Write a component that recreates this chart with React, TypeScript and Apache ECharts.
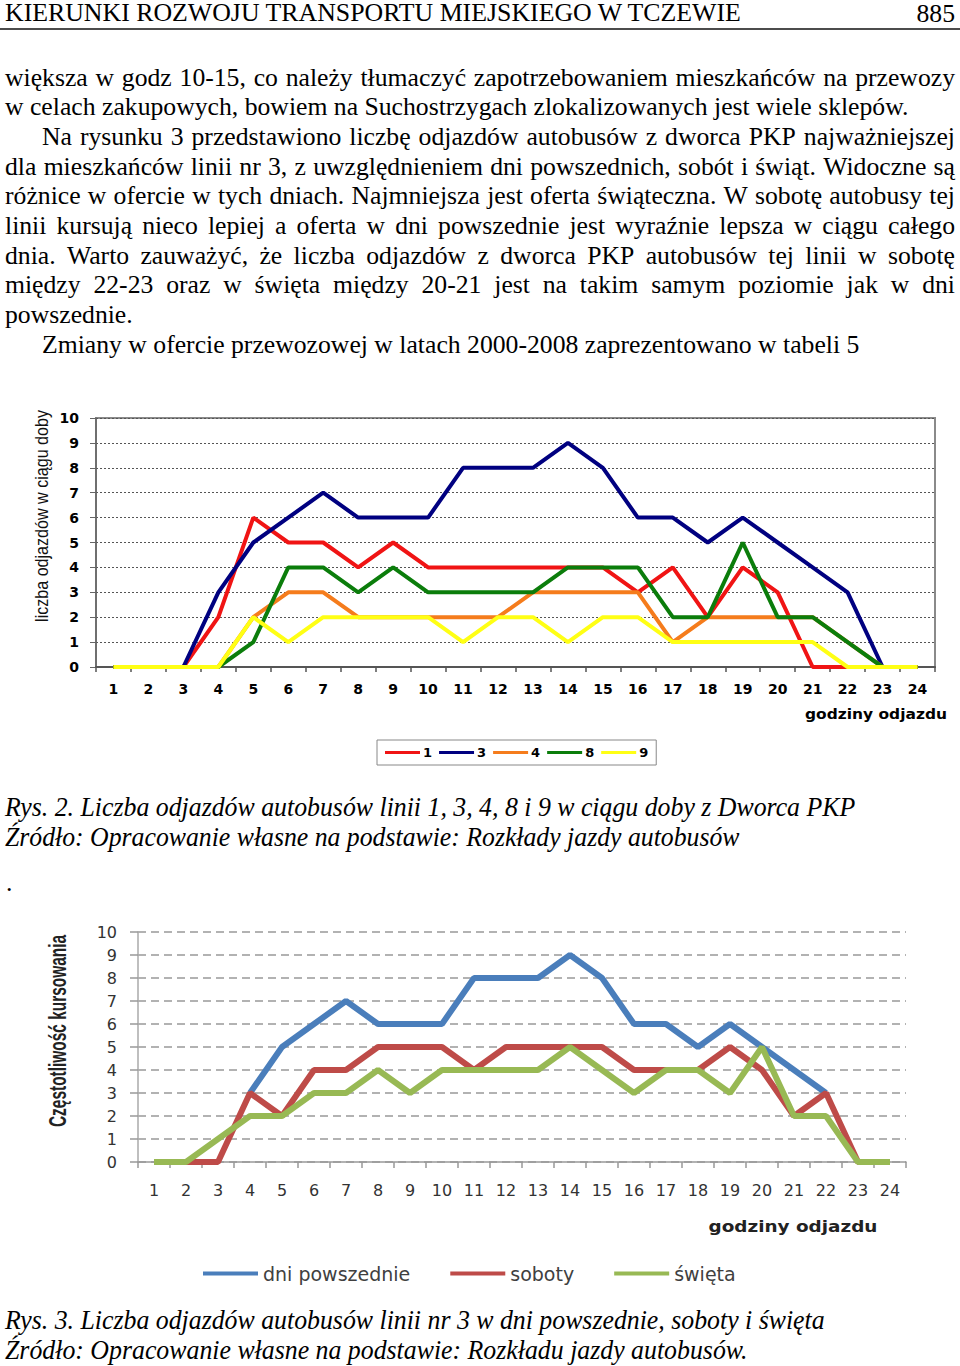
import React, { useEffect, useRef } from 'react';
import * as echarts from 'echarts';

// ---------- DATA ----------
const hours = ['1','2','3','4','5','6','7','8','9','10','11','12','13','14','15','16','17','18','19','20','21','22','23','24'];
const yTicks = [0, 10];

// Rys. 2 – lines 1, 3, 4, 8, 9
const line1 = [0,0,0,2,6,5,5,4,5,4,4,4,4,4,4,3,4,2,4,3,0,0,0,0];
const line3 = [0,0,0,3,5,6,7,6,6,6,8,8,8,9,8,6,6,5,6,5,4,3,0,0];
const line4 = [0,0,0,0,2,3,3,2,2,2,2,2,3,3,3,3,1,2,2,2,2,1,0,0];
const line8 = [0,0,0,0,1,4,4,3,4,3,3,3,3,4,4,4,2,2,5,2,2,1,0,0];
const line9 = [0,0,0,0,2,1,2,2,2,2,1,2,2,1,2,2,1,1,1,1,1,0,0,0];
const chart1Names = ['1','3','4','8','9'];

// Rys. 3 – line 3 by day type
const weekdays = [null,null,null,3,5,6,7,6,6,6,8,8,8,9,8,6,6,5,6,5,4,3,null,null];
const saturdays = [0,0,0,3,2,4,4,5,5,5,4,5,5,5,5,4,4,4,5,4,2,3,0,0];
const holidays = [0,0,1,2,2,3,3,4,3,4,4,4,4,5,4,3,4,4,3,5,2,2,0,0];
const chart2Names = ['dni powszednie','soboty','święta'];

// ---------- TEXT ----------
const headerTitle = 'KIERUNKI ROZWOJU TRANSPORTU MIEJSKIEGO W TCZEWIE';
const pageNumber = '885';
const bodyLines = [
  'większa w godz 10-15, co należy tłumaczyć zapotrzebowaniem mieszkańców na przewozy',
  'w celach zakupowych, bowiem na Suchostrzygach zlokalizowanych jest wiele sklepów.',
  'Na rysunku 3 przedstawiono liczbę odjazdów autobusów z dworca PKP najważniejszej',
  'dla mieszkańców linii nr 3, z uwzględnieniem dni powszednich, sobót i świąt. Widoczne są',
  'różnice w ofercie w tych dniach. Najmniejsza jest oferta świąteczna. W sobotę autobusy tej',
  'linii kursują nieco lepiej a oferta w dni powszednie jest wyraźnie lepsza w ciągu całego',
  'dnia. Warto zauważyć, że liczba odjazdów z dworca PKP  autobusów tej linii w sobotę',
  'między 22-23 oraz w święta między 20-21 jest na takim samym poziomie jak w dni',
  'powszednie.',
  'Zmiany w ofercie przewozowej w latach 2000-2008 zaprezentowano w tabeli 5',
];
const caption2 = 'Rys. 2. Liczba odjazdów autobusów linii 1, 3, 4, 8 i 9 w ciągu doby z Dworca PKP';
const source2 = 'Źródło: Opracowanie własne na podstawie: Rozkłady jazdy autobusów';
const caption3 = 'Rys. 3. Liczba odjazdów autobusów linii nr 3 w dni powszednie, soboty i święta';
const source3 = 'Źródło: Opracowanie własne na podstawie: Rozkładu jazdy autobusów.';
const y1Name = 'liczba odjazdów w ciągu doby';
const y2Name = 'Częstotliwość kursowania';
const xName = 'godziny odjazdu';

// ---------- HELPERS ----------
let measureCtx: CanvasRenderingContext2D | null = null;
function textWidth(t: string, font: string) {
  if (!measureCtx) measureCtx = document.createElement('canvas').getContext('2d');
  measureCtx!.font = font;
  return measureCtx!.measureText(t).width;
}
type TOpt = {
  size: number; family: string; weight?: string; italic?: boolean; color?: string;
  align?: 'left' | 'center' | 'right'; fitWidth?: number; rotation?: number;
};
function fontStr(o: TOpt) {
  return `${o.italic ? 'italic ' : ''}${o.weight || 'normal'} ${o.size}px "${o.family}"`;
}
function txt(text: string, x: number, y: number, o: TOpt): any {
  let scaleX = 1;
  if (o.fitWidth) scaleX = o.fitWidth / textWidth(text, fontStr(o));
  return {
    type: 'text', x, y, rotation: o.rotation || 0, scaleX, scaleY: 1, silent: true,
    style: {
      text, fontSize: o.size, fontFamily: o.family, fontWeight: o.weight || 'normal',
      fontStyle: o.italic ? 'italic' : 'normal', fill: o.color || '#000',
      align: o.align || 'left', verticalAlign: 'middle',
    },
  };
}
function justified(text: string, x0: number, x1: number, y: number, o: TOpt) {
  const words = text.split(/\s+/);
  const f = fontStr(o);
  const ws = words.map((w) => textWidth(w, f));
  const total = ws.reduce((a, b) => a + b, 0);
  const gap = (x1 - x0 - total) / (words.length - 1);
  let x = x0;
  const out: any[] = [];
  words.forEach((w, i) => { out.push(txt(w, x, y, o)); x += ws[i] + gap; });
  return out;
}

function buildGraphics() {
  const body: TOpt = { size: 25.7, family: 'Liberation Serif', color: '#000' };
  const g: any[] = [];
  g.push(txt(headerTitle, 5, 13, { ...body, fitWidth: 738 }));
  g.push(txt(pageNumber, 955, 13, { ...body, align: 'right' }));
  g.push({ type: 'line', silent: true, shape: { x1: 0, y1: 29, x2: 960, y2: 29 }, style: { stroke: '#111', lineWidth: 1.5 } });

  const ys = [77, 106.7, 136.3, 166, 195.7, 225.3, 255, 284.7, 314.3, 344];
  const layout: [number, number | null][] = [
    [5, 955], [5, null], [42, 955], [5, 955], [5, 955], [5, 955], [5, 955], [5, 955], [5, null], [42, null],
  ];
  bodyLines.forEach((line, i) => {
    const [x0, x1] = layout[i];
    if (x1 === null) g.push(txt(line, x0, ys[i], body));
    else g.push(...justified(line, x0, x1, ys[i], body));
  });

  const cap: TOpt = { size: 27, family: 'Liberation Serif', italic: true, color: '#000' };
  g.push(txt(caption2, 5, 807, { ...cap, fitWidth: 850 }));
  g.push(txt(source2, 5, 837, { ...cap, fitWidth: 735 }));
  g.push(txt('.', 6, 882, body));
  g.push(txt(caption3, 5, 1320, { ...cap, fitWidth: 820 }));
  g.push(txt(source3, 5, 1350, { ...cap, fitWidth: 743 }));

  // axis names
  g.push(txt(y1Name, 42, 516, { size: 18, family: 'Liberation Sans', color: '#111', align: 'center', rotation: Math.PI / 2, fitWidth: 212 }));
  g.push(txt(xName, 876, 714, { size: 14, family: 'DejaVu Sans', weight: 'bold', color: '#000', align: 'center', fitWidth: 142 }));
  g.push(txt(y2Name, 58, 1031, { size: 23, family: 'Liberation Sans', weight: 'bold', color: '#222', align: 'center', rotation: Math.PI / 2, fitWidth: 192 }));
  g.push(txt(xName, 793, 1226, { size: 16, family: 'DejaVu Sans', weight: 'bold', color: '#222', align: 'center', fitWidth: 169 }));
  return g;
}

function lineSeries(name: string, data: (number | null)[], color: string, width: number, axis: number) {
  return {
    name, type: 'line', data, xAxisIndex: axis, yAxisIndex: axis, symbol: 'none', showSymbol: false,
    connectNulls: false, lineStyle: { color, width }, itemStyle: { color }, emphasis: { disabled: true },
    z: 3,
  };
}

export default function App() {
  const ref = useRef<HTMLDivElement>(null);
  useEffect(() => {
    if (!ref.current) return;
    const chart = echarts.init(ref.current, null, { renderer: 'svg' });
    const lab1 = { fontFamily: 'DejaVu Sans', fontWeight: 'bold', fontSize: 14, color: '#000' };
    const lab2 = { fontFamily: 'DejaVu Sans', fontSize: 16, color: '#333' };
    const option: any = {
      animation: false,
      backgroundColor: '#ffffff',
      grid: [
        { left: 96, top: 418, width: 839, height: 249, show: true, borderColor: '#8a8a8a', borderWidth: 2, backgroundColor: 'transparent', outerBoundsMode: 'none' },
        { left: 138, top: 932, width: 768, height: 230, outerBoundsMode: 'none' },
      ],
      xAxis: [
        {
          gridIndex: 0, type: 'category', data: hours, boundaryGap: true,
          axisLine: { show: true, lineStyle: { color: '#555', width: 2 } },
          axisTick: { show: true, length: 5, interval: 0, lineStyle: { color: '#555', width: 1.5 } },
          axisLabel: { ...lab1, margin: 15, interval: 0 },
          splitLine: { show: false },
        },
        {
          gridIndex: 1, type: 'category', data: hours, boundaryGap: true,
          axisLine: { show: true, lineStyle: { color: '#999', width: 1.5 } },
          axisTick: { show: true, length: 6, interval: 0, lineStyle: { color: '#999', width: 1.5 } },
          axisLabel: { ...lab2, margin: 20, interval: 0 },
          splitLine: { show: false },
        },
      ],
      yAxis: [
        {
          gridIndex: 0, type: 'value', min: yTicks[0], max: yTicks[1], interval: 1,
          axisLine: { show: true, lineStyle: { color: '#666', width: 1.5 } },
          axisTick: { show: true, length: 6, lineStyle: { color: '#666' } },
          axisLabel: { ...lab1, margin: 17 },
          splitLine: { show: true, lineStyle: { color: '#555', type: [2, 2], width: 1 } },
        },
        {
          gridIndex: 1, type: 'value', min: yTicks[0], max: yTicks[1], interval: 1,
          axisLine: { show: true, lineStyle: { color: '#aaa', width: 1.5 } },
          axisTick: { show: true, length: 8, lineStyle: { color: '#999', width: 1.5 } },
          axisLabel: { ...lab2, margin: 21 },
          splitLine: { show: true, lineStyle: { color: '#999', type: [8, 5], width: 1.5 } },
        },
      ],
      legend: [
        {
          data: chart1Names, left: 377, top: 740, orient: 'horizontal', icon: 'rect',
          itemWidth: 35, itemHeight: 3, itemGap: 7, padding: [6, 8],
          borderColor: '#888', borderWidth: 1, backgroundColor: '#fff',
          textStyle: { fontFamily: 'DejaVu Sans', fontWeight: 'bold', fontSize: 13, color: '#000', padding: [0, 0, 0, -2] },
          selectedMode: false,
        },
        {
          data: chart2Names, left: 203, top: 1264, orient: 'horizontal', icon: 'rect',
          itemWidth: 55, itemHeight: 4, itemGap: 40, padding: 0,
          textStyle: { fontFamily: 'DejaVu Sans', fontSize: 19, color: '#404040' },
          selectedMode: false,
        },
      ],
      series: [
        lineSeries('1', line1, '#f01414', 4, 0),
        lineSeries('3', line3, '#000080', 4, 0),
        lineSeries('4', line4, '#f57c1c', 4, 0),
        lineSeries('8', line8, '#0b7d0b', 4, 0),
        lineSeries('9', line9, '#ffff14', 4, 0),
        lineSeries('dni powszednie', weekdays, '#4a7ebb', 6, 1),
        lineSeries('soboty', saturdays, '#be4b48', 6, 1),
        lineSeries('święta', holidays, '#98b954', 6, 1),
      ],
      graphic: { elements: buildGraphics() },
    };
    chart.setOption(option);
    return () => chart.dispose();
  }, []);
  return <div ref={ref} style={{ position: 'absolute', left: 0, top: 0, width: 960, height: 1366 }} />;
}
